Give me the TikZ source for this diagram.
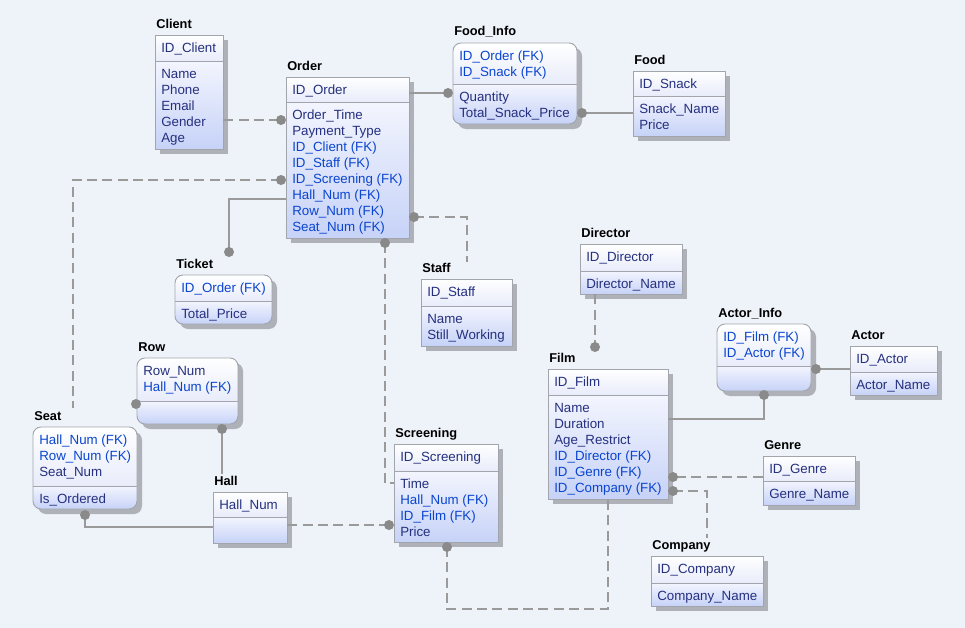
\documentclass[tikz,border=0pt]{standalone}
\usepackage{fontspec}
\setmainfont{Liberation Sans}
\usetikzlibrary{calc,fit}
\definecolor{bgc}{HTML}{EEF3FA}
\definecolor{nc}{HTML}{25307F}
\definecolor{fc}{HTML}{0A45D0}
\definecolor{bordc}{HTML}{A2A5AC}
\definecolor{shadc}{HTML}{AEB1B8}
\definecolor{hdtop}{HTML}{FFFFFF}
\definecolor{hdbot}{HTML}{E8ECFA}
\definecolor{bdtop}{HTML}{F3F5FE}
\definecolor{bdbot}{HTML}{C6D2F7}
\definecolor{linec}{HTML}{9A9A9A}
\definecolor{dotc}{HTML}{8A8A8A}
\tikzset{
 attr/.style={anchor=base west, inner sep=0pt, font=\fontsize{10}{12}\selectfont},
 ttl/.style={anchor=base west, inner sep=0pt, font=\fontsize{9.6}{11}\selectfont\bfseries, text=black},
 conn/.style={draw=linec, line width=1pt},
 dconn/.style={conn, dash pattern=on 7.5pt off 4pt},
 boxline/.style={draw=bordc, line width=0.7pt},
}
% #1 name, #2 title, #3 left, #4 top, #5 right, #6 divider, #7 bottom
\newcommand\entity[7]{%
 \fill[shadc] (#3+5,#4+5) rectangle (#5+5,#7+5);
 \shade[top color=hdtop,bottom color=hdbot] (#3,#4) rectangle (#5,#6);
 \shade[top color=bdtop,bottom color=bdbot] (#3,#6) rectangle (#5,#7);
 \draw[boxline] (#3,#4) rectangle (#5,#7);
 \draw[boxline] (#3,#6) -- (#5,#6);
 \node[inner sep=0pt, fit={(#3,#4) (#5,#7)}] (#1) {};
 \node[ttl] (#1t) at (#3+1,#4-7) {#2};
}
\newcommand\rentity[7]{%
 \fill[shadc, rounded corners=6pt] (#3+5,#4+5) rectangle (#5+5,#7+5);
 \begin{scope}
 \clip[rounded corners=6pt] (#3,#4) rectangle (#5,#7);
 \shade[top color=hdtop,bottom color=hdbot] (#3,#4) rectangle (#5,#6);
 \shade[top color=bdtop,bottom color=bdbot] (#3,#6) rectangle (#5,#7);
 \end{scope}
 \draw[boxline, rounded corners=6pt] (#3,#4) rectangle (#5,#7);
 \draw[boxline] (#3,#6) -- (#5,#6);
 \node[inner sep=0pt, fit={(#3,#4) (#5,#7)}] (#1) {};
 \node[ttl] (#1t) at (#3+1,#4-7) {#2};
}
% #1 prefix, #2 left, #3 section top, #4 list colour/text
\newcommand\rows[4]{%
 \foreach \cl/\tx [count=\i from 0] in {#4} {\node[attr, text=\cl] (#1\i) at (#2+6, #3+17.5+16*\i) {\tx};}
}
\begin{document}
\begin{tikzpicture}[x=0.75pt,y=-0.75pt]
\fill[bgc] (0,0) rectangle (965,628);
\useasboundingbox (0,0) rectangle (965,628);

% entities
\entity{client}{Client}{155}{35}{223}{61}{149}
\rows{clienth}{155}{35}{nc/ID\_Client}
\rows{clientb}{155}{61}{nc/Name,nc/Phone,nc/Email,nc/Gender,nc/Age}

\entity{order}{Order}{286}{77}{409}{102}{238}
\rows{orderh}{286}{77}{nc/ID\_Order}
\rows{orderb}{286}{102}{nc/Order\_Time,nc/Payment\_Type,fc/ID\_Client (FK),fc/ID\_Staff (FK),fc/ID\_Screening (FK),fc/Hall\_Num (FK),fc/Row\_Num (FK),fc/Seat\_Num (FK)}

\rentity{foodinfo}{Food\_Info}{453}{43}{577}{84}{124}
\rows{foodinfoh}{453}{43}{fc/ID\_Order (FK),fc/ID\_Snack (FK)}
\rows{foodinfob}{453}{84}{nc/Quantity,nc/Total\_Snack\_Price}

\entity{food}{Food}{633}{71}{725}{96}{136}
\rows{foodh}{633}{71}{nc/ID\_Snack}
\rows{foodb}{633}{96}{nc/Snack\_Name,nc/Price}

\rentity{ticket}{Ticket}{175}{275}{272}{301}{324}
\rows{ticketh}{175}{275}{fc/ID\_Order (FK)}
\rows{ticketb}{175}{301}{nc/Total\_Price}

\entity{staff}{Staff}{421}{279}{512}{306}{346}
\rows{staffh}{421}{279}{nc/ID\_Staff}
\rows{staffb}{421}{306}{nc/Name,nc/Still\_Working}

\rentity{row}{Row}{137}{358}{238}{401}{424}
\rows{rowh}{137}{358}{nc/Row\_Num,fc/Hall\_Num (FK)}

\rentity{seat}{Seat}{33}{427}{137}{486}{509}
\rows{seath}{33}{427}{fc/Hall\_Num (FK),fc/Row\_Num (FK),nc/Seat\_Num}
\rows{seatb}{33}{486}{nc/Is\_Ordered}

\entity{hall}{Hall}{213}{492}{287}{517}{543}
\rows{hallh}{213}{492}{nc/Hall\_Num}

\entity{screening}{Screening}{394}{444}{498}{471}{542}
\rows{screeningh}{394}{444}{nc/ID\_Screening}
\rows{screeningb}{394}{471}{nc/Time,fc/Hall\_Num (FK),fc/ID\_Film (FK),nc/Price}

\entity{director}{Director}{580}{244}{682}{271}{294}
\rows{directorh}{580}{244}{nc/ID\_Director}
\rows{directorb}{580}{271}{nc/Director\_Name}

\entity{film}{Film}{548}{369}{668}{395}{499}
\rows{filmh}{548}{369}{nc/ID\_Film}
\rows{filmb}{548}{395}{nc/Name,nc/Duration,nc/Age\_Restrict,fc/ID\_Director (FK),fc/ID\_Genre (FK),fc/ID\_Company (FK)}

\rentity{actorinfo}{Actor\_Info}{717}{324}{811}{366}{391}
\rows{actorinfoh}{717}{324}{fc/ID\_Film (FK),fc/ID\_Actor (FK)}

\entity{actor}{Actor}{850}{346}{937}{372}{395}
\rows{actorh}{850}{346}{nc/ID\_Actor}
\rows{actorb}{850}{372}{nc/Actor\_Name}

\entity{genre}{Genre}{763}{456}{855}{481}{505}
\rows{genreh}{763}{456}{nc/ID\_Genre}
\rows{genreb}{763}{481}{nc/Genre\_Name}

\entity{company}{Company}{651}{556}{763}{583}{606}
\rows{companyh}{651}{556}{nc/ID\_Company}
\rows{companyb}{651}{583}{nc/Company\_Name}

% connector end points (dots) and free ends
\coordinate (dCO) at (281,120);
\coordinate (dOF) at (448,93);
\coordinate (dFF) at (582,113);
\coordinate (dOS) at (414,217);
\coordinate (eOS) at (467,262);
\coordinate (dOSc) at (385,243);
\coordinate (dOT) at (229,252);
\coordinate (dOSe) at (281,180);
\coordinate (eOSe) at (73,408);
\coordinate (dRS) at (136,404);
\coordinate (dRH) at (222,429);
\coordinate (eRH) at (222,474);
\coordinate (dSH) at (85,515);
\coordinate (dHS) at (389,525);
\coordinate (dScF) at (447,547);
\coordinate (dDF) at (595,347);
\coordinate (dAF) at (764,395);
\coordinate (dAA) at (816,369);
\coordinate (dGF) at (673,477);
\coordinate (dCF) at (673,491);
\coordinate (eCF) at (707,538);

% connectors
\draw[dconn] (client.east |- dCO) -- (dCO);
\draw[conn] (order.east |- dOF) -- (dOF);
\draw[conn] (dFF) -- (food.west |- dFF);
\draw[dconn] (dOS) -| (eOS);
\draw[dconn] (dOSc) |- (screening.west |- 0,483);
\draw[conn] (order.west |- 0,199) -| (dOT);
\draw[dconn] (dOSe) -| (eOSe);
\draw[conn] (dRH) -- (eRH);
\draw[conn] (dSH) |- (hall.west |- 0,527);
\draw[dconn] (hall.east |- dHS) -- (dHS);
\draw[dconn] (dScF) |- (608,609) -- (film.south -| 608,0);
\draw[dconn] (director.south -| dDF) -- (dDF);
\draw[conn] (dAF) |- (film.east |- 0,419);
\draw[conn] (dAA) -- (actor.west |- dAA);
\draw[dconn] (genre.west |- dGF) -- (dGF);
\draw[dconn] (dCF) -| (eCF);

% dots
\foreach \d in {dCO,dOF,dFF,dOS,dOSc,dOT,dOSe,dRS,dRH,dSH,dHS,dScF,dDF,dAF,dAA,dGF,dCF}
 \fill[dotc] (\d) circle (5);
\end{tikzpicture}
\end{document}
